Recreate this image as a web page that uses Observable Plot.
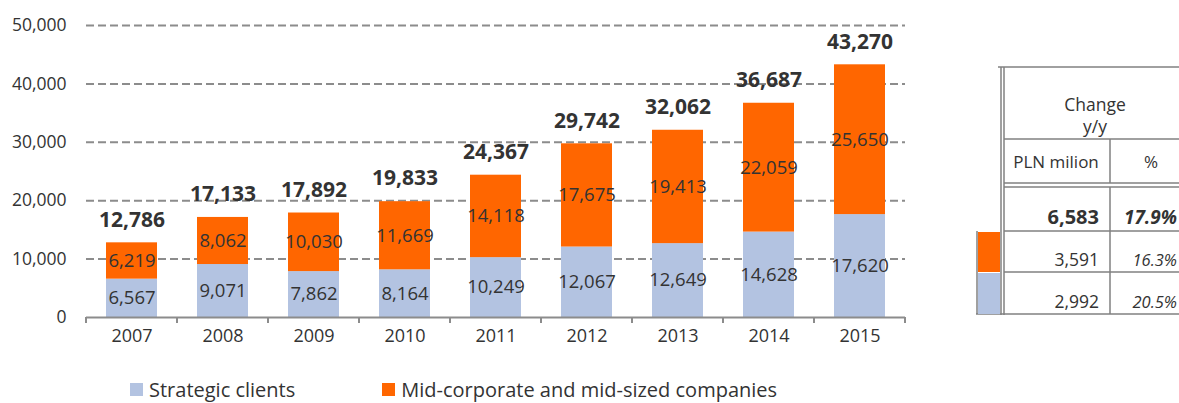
<!DOCTYPE html>
<html>
<head>
<meta charset="utf-8">
<script src="https://cdn.jsdelivr.net/npm/d3@7"></script>
<script src="https://cdn.jsdelivr.net/npm/@observablehq/plot@0.6"></script>
<style>
  html, body { margin: 0; padding: 0; background: #fff; }
  body { width: 1179px; height: 403px; overflow: hidden; position: relative; font-family: "Open Sans", sans-serif; color: #333; }
  #chart { position: absolute; left: 0; top: 0; }
  #legend { position: absolute; left: 130px; top: 376px; display: flex; font-size: 20px; color: #333; white-space: nowrap; line-height: 27px; }
  #legend .item { display: flex; align-items: center; }
  #legend .sw { width: 13px; height: 13px; margin-right: 6px; display: inline-block; }
  #table { position: absolute; left: 0; top: 0; }
</style>
</head>
<body>
<div id="chart"></div>
<div id="legend"></div>
<svg id="table" width="1179" height="403"></svg>
<script>
const years = ["2007","2008","2009","2010","2011","2012","2013","2014","2015"];
const strategic = [6567, 9071, 7862, 8164, 10249, 12067, 12649, 14628, 17620];
const midCorp = [6219, 8062, 10030, 11669, 14118, 17675, 19413, 22059, 25650];
const totals = [12786, 17133, 17892, 19833, 24367, 29742, 32062, 36687, 43270];
const seriesNames = ["Strategic clients", "Mid-corporate and mid-sized companies"];
const seriesColors = ["#B3C3E1", "#FF6600"];
const yTicks = [0, 10000, 20000, 30000, 40000, 50000];

const tableHeader = ["Change", "y/y"];
const tableColumns = ["PLN milion", "%"];
const tableTotal = ["6,583", "17.9%"];
const tableRows = [["3,591", "16.3%"], ["2,992", "20.5%"]];

const data = [];
years.forEach((y, i) => {
  data.push({year: y, series: seriesNames[0], value: strategic[i]});
  data.push({year: y, series: seriesNames[1], value: midCorp[i]});
});
const totalData = years.map((y, i) => ({year: y, total: totals[i]}));
const fmt = d3.format(",");

const chart = Plot.plot({
  width: 920,
  height: 360,
  marginLeft: 86,
  marginRight: 15,
  marginTop: 25,
  marginBottom: 43,
  style: {fontFamily: "Open Sans, sans-serif", fontSize: "17px", color: "#333", background: "white"},
  x: {domain: years, paddingInner: 0.44, paddingOuter: 0.22, label: null},
  y: {domain: [0, 50000], ticks: yTicks, label: null},
  color: {domain: seriesNames, range: seriesColors},
  marks: [
    Plot.gridY(yTicks.filter(d => d > 0), {stroke: "#8c8c8c", strokeOpacity: 1, strokeWidth: 2, strokeDasharray: "8,4"}),
    Plot.axisY({ticks: yTicks, tickSize: 0, tickPadding: 20, tickFormat: fmt, fontSize: 17.5, fill: "#333"}),
    Plot.axisX({tickSize: 0, tickPadding: 12, fontSize: 18, fill: "#333"}),
    Plot.barY(data, Plot.stackY({x: "year", y: "value", fill: "series", z: "series", order: seriesNames})),
    Plot.text(data, Plot.stackY({x: "year", y: "value", z: "series", order: seriesNames, text: d => fmt(d.value), fill: "#333", fontSize: 18.5})),
    Plot.text(totalData, {x: "year", y: "total", text: d => fmt(d.total), dy: -23, fontSize: 21, fontWeight: "bold", fill: "#333"}),
    Plot.ruleY([0], {stroke: "#8c8c8c", strokeWidth: 2})
  ]
});
document.getElementById("chart").appendChild(chart);

// axis tick marks at band boundaries
const xs = chart.scale("x");
const ys = chart.scale("y");
const svg = d3.select(chart);
const y0 = ys.apply(0);
const r0 = xs.range[0];
const step = xs.step;
for (let i = 0; i <= years.length; i++) {
  const xp = r0 + i * step;
  svg.append("line").attr("x1", xp).attr("x2", xp).attr("y1", y0).attr("y2", y0 + 6)
    .attr("stroke", "#8c8c8c").attr("stroke-width", 2);
}

// legend
const legend = document.getElementById("legend");
seriesNames.forEach((n, i) => {
  const it = document.createElement("div");
  it.className = "item";
  it.style.marginRight = i === 0 ? "87px" : "0";
  it.innerHTML = `<span class="sw" style="background:${seriesColors[i]}"></span>${n}`;
  legend.appendChild(it);
});

// side table
const t = d3.select("#table");
const lc = "#808080";
const L = 1001, L2 = 1004, R = 1179, C = 1110;
const rowsY = [67, 139, 183, 231, 272, 314];
function line(x1, y1, x2, y2) {
  t.append("line").attr("x1", x1).attr("y1", y1).attr("x2", x2).attr("y2", y2).attr("stroke", lc).attr("stroke-width", 1.5);
}
line(998, rowsY[0], R, rowsY[0]);
line(L, rowsY[0], L, rowsY[5] + 1);
line(L2, rowsY[0], L2, rowsY[5] + 1);
line(L2, rowsY[1], R, rowsY[1]);
line(L2, rowsY[2], R, rowsY[2]);
line(L2, rowsY[2] + 4, R, rowsY[2] + 4);
line(L2, rowsY[3], R, rowsY[3]);
line(L2, rowsY[4], R, rowsY[4]);
line(976, rowsY[5], R, rowsY[5]);
line(C, rowsY[1], C, rowsY[2]);
line(C, rowsY[2] + 4, C, rowsY[5]);
line(977, rowsY[3], 977, rowsY[5]);
t.append("rect").attr("x", 978).attr("y", rowsY[3] + 1).attr("width", 22).attr("height", rowsY[4] - rowsY[3] - 1).attr("fill", seriesColors[1]);
t.append("rect").attr("x", 978).attr("y", rowsY[4] + 1).attr("width", 22).attr("height", rowsY[5] - rowsY[4] - 1).attr("fill", seriesColors[0]);
function txt(x, y, s, anchor, size, weight, style) {
  t.append("text").attr("x", x).attr("y", y).attr("text-anchor", anchor)
    .attr("font-family", "Open Sans, sans-serif").attr("font-size", size)
    .attr("font-weight", weight || "normal").attr("font-style", style || "normal")
    .attr("fill", "#333").text(s);
}
txt(1095, 111, tableHeader[0], "middle", 17.5);
txt(1095, 133, tableHeader[1], "middle", 17.5);
txt(1056, 168, tableColumns[0], "middle", 17);
txt(1151, 168, tableColumns[1], "middle", 17);
txt(1099, 224, tableTotal[0], "end", 20, "bold");
txt(1177, 224, tableTotal[1], "end", 19, "bold", "italic");
tableRows.forEach((r, i) => {
  const yy = 266 + i * 42;
  txt(1099, yy, r[0], "end", 17.5);
  txt(1177, yy, r[1], "end", 16.5, "normal", "italic");
});
</script>
</body>
</html>
